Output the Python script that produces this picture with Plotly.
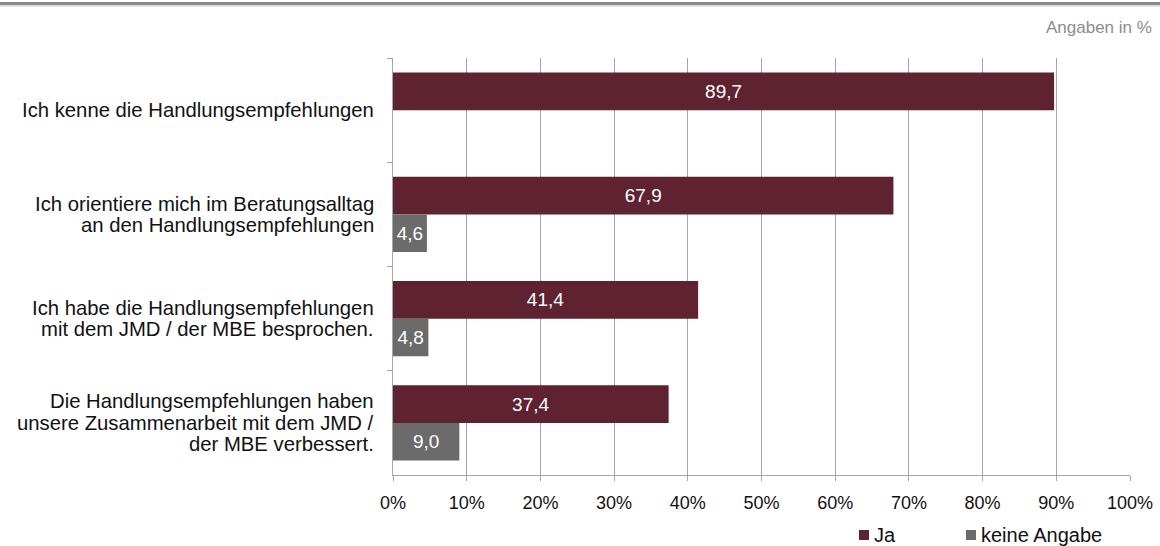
import plotly.graph_objects as go

categories = [
    "Ich kenne die Handlungsempfehlungen",
    "Ich orientiere mich im Beratungsalltag<br>an den Handlungsempfehlungen",
    "Ich habe die Handlungsempfehlungen<br>mit dem JMD / der MBE besprochen.",
    "Die Handlungsempfehlungen haben<br>unsere Zusammenarbeit mit dem JMD /<br>der MBE verbessert.",
]
ja = [89.7, 67.9, 41.4, 37.4]
keine_angabe = [None, 4.6, 4.8, 9.0]
tick_vals = [0, 10, 20, 30, 40, 50, 60, 70, 80, 90, 100]
tick_text = [f"{v}%" for v in tick_vals]
series_names = ["Ja", "keine Angabe"]
series_colors = ["#5E2230", "#6B6B6B"]

W, H = 1160, 546
ML, MR, MT, MB = 393, 30, 58, 71
PW, PH = W - ML - MR, H - MT - MB

font = "Liberation Sans, Arial, sans-serif"
txt = "#111111"

fig = go.Figure()
for name, vals, col in zip(series_names, [ja, keine_angabe], series_colors):
    fig.add_trace(go.Bar(
        y=categories, x=vals, orientation="h", name=name,
        marker=dict(color=col, line=dict(width=0)),
        texttemplate="%{x:.1f}", textposition="inside", insidetextanchor="middle",
        textfont=dict(color="white", size=19, family=font),
        showlegend=False,
    ))

def px_x(px):
    return (px - ML) / PW

def px_y(py):
    return 1 - (py - MT) / PH

# top rule
fig.add_shape(type="line", xref="paper", yref="paper",
              x0=px_x(0), x1=px_x(W), y0=px_y(3.5), y1=px_y(3.5),
              line=dict(color="#8C8C8C", width=3))
fig.add_shape(type="line", xref="paper", yref="paper",
              x0=px_x(0), x1=px_x(W), y0=px_y(5.8), y1=px_y(5.8),
              line=dict(color="#CFCFCF", width=1.2))

fig.add_annotation(text="Angaben in %", xref="paper", yref="paper",
                   x=px_x(1154), y=px_y(27), xanchor="right", yanchor="middle",
                   showarrow=False, font=dict(color="#8C8C8C", size=17, family=font))

# category labels (one annotation per line, tighter line spacing)
line_h = 21.5
for cat in categories:
    lines = cat.split("<br>")
    n = len(lines)
    for i, ln in enumerate(lines):
        fig.add_annotation(text=ln, xref="paper", yref="y", x=px_x(376), y=cat,
                           xanchor="right", yanchor="middle", showarrow=False,
                           yshift=((n - 1) / 2 - i) * line_h,
                           font=dict(color=txt, size=20.3, family=font))

# legend: swatch + label
swatch_x = [859, 966]
label_x = [872, 979]
for name, col, sx, lx in zip(series_names, series_colors, swatch_x, label_x):
    fig.add_shape(type="rect", xref="paper", yref="paper",
                  x0=px_x(sx), x1=px_x(sx + 10), y0=px_y(530), y1=px_y(540),
                  fillcolor=col, line=dict(width=0))
    fig.add_annotation(
        text=name, xref="paper", yref="paper", x=px_x(lx), y=px_y(535),
        xanchor="left", yanchor="middle", showarrow=False,
        font=dict(color=txt, size=20, family=font))

fig.update_layout(
    width=W, height=H,
    margin=dict(l=ML, r=MR, t=MT, b=MB, autoexpand=False),
    paper_bgcolor="white", plot_bgcolor="white",
    barmode="group", bargap=0.28, bargroupgap=0,
    separators=",.",
    font=dict(family=font, size=18, color=txt),
    uniformtext=dict(minsize=19, mode="show"),
    showlegend=False,
    xaxis=dict(range=[0, 100], tickvals=tick_vals, ticktext=tick_text,
               showgrid=True, gridcolor="#A6A6A6", gridwidth=1,
               showline=True, linecolor="#A6A6A6", linewidth=1,
               ticks="outside", ticklen=5, tickcolor="#A6A6A6",
               ticklabelstandoff=6,
               zeroline=False, tickfont=dict(size=18, family=font, color=txt)),
    yaxis=dict(autorange="reversed", showline=True, linecolor="#A6A6A6", linewidth=1,
               ticks="outside", ticklen=5, tickcolor="#A6A6A6", tickson="boundaries",
               showgrid=False, showticklabels=False),
)

fig.write_html("out.html")
